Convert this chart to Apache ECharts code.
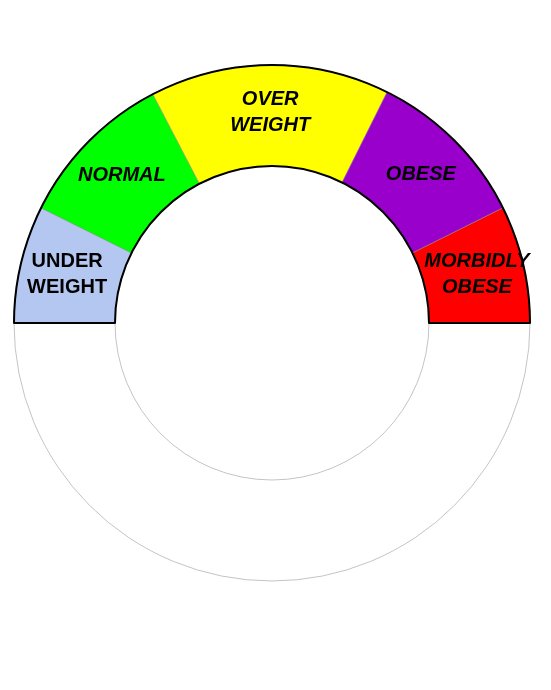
<!DOCTYPE html>
<html>
<head>
<meta charset="utf-8">
<script src="https://cdn.jsdelivr.net/npm/echarts@6/dist/echarts.min.js"></script>
<style>html,body{margin:0;padding:0;background:#fff}#chart{width:551px;height:690px}</style>
</head>
<body>
<div id="chart"></div>
<script>
var categories = ['UNDER\nWEIGHT', 'NORMAL', 'OVER\nWEIGHT', 'OBESE', 'MORBIDLY\nOBESE'];
var spans = [26.5, 36, 54, 37, 26.5];
var colors = ['#b4c7f0', '#00ff00', '#ffff00', '#9900cc', '#ff0000'];
var italics = ['normal', 'italic', 'italic', 'italic', 'italic'];

var chart = echarts.init(document.getElementById('chart'));
var data = [];
for (var i = 0; i < categories.length; i++) {
    data.push({
        value: spans[i], name: categories[i],
        itemStyle: {color: colors[i]},
        label: {fontStyle: italics[i]}
    });
}
// hidden lower half
data.push({value: 180, name: '', itemStyle: {color: 'transparent'}, label: {show: false}});

var option = {
    animation: false,
    series: [
        {
            type: 'pie',
            center: [272, 323],
            radius: [157, 258],
            startAngle: 180,
            clockwise: true,
            silent: true,
            itemStyle: {borderWidth: 0.5, borderColor: '#888'},
            label: {
                show: true,
                position: 'inside',
                color: '#000',
                fontFamily: 'Liberation Sans, Arial',
                fontWeight: 'bold',
                fontSize: 20,
                lineHeight: 26
            },
            labelLine: {show: false},
            data: data
        },
        {
            type: 'pie',
            center: [272, 323],
            radius: [157, 258],
            startAngle: 180,
            silent: true,
            label: {show: false},
            data: [
                {value: 180, itemStyle: {color: 'transparent', borderColor: '#000', borderWidth: 2}},
                {value: 180, itemStyle: {color: 'transparent'}}
            ]
        }
    ]
};
chart.setOption(option);
</script>
</body>
</html>
